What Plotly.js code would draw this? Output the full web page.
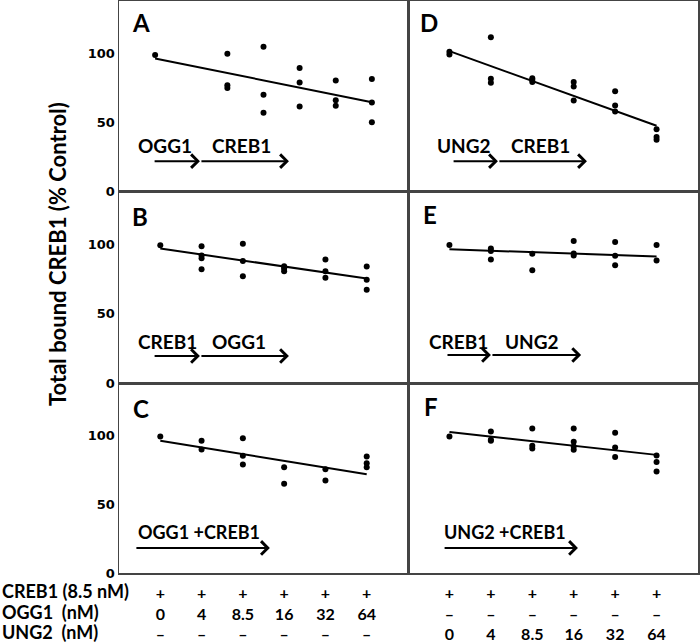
<!DOCTYPE html>
<html>
<head>
<meta charset="utf-8">
<script src="https://cdn.plot.ly/plotly-3.0.1.min.js"></script>
<style>
  html, body { margin: 0; padding: 0; background: #fff; }
  #plot { width: 700px; height: 644px; }
</style>
</head>
<body>
<div id="plot"></div>
<script>
// concentrations under each column of dots
var concLabels = ['0', '4', '8.5', '16', '32', '64'];
var plusRow = ['+', '+', '+', '+', '+', '+'];
var dashRow = ['\u2013', '\u2013', '\u2013', '\u2013', '\u2013', '\u2013'];
var rowLabels = ['CREB1 (8.5 nM)', 'OGG1\u00a0\u00a0(nM)', 'UNG2\u00a0\u00a0(nM)'];

// A : OGG1 -> CREB1 (drawn on a 7 slot axis, slot 1 empty)
var aX = [0, 2, 2, 2, 3, 3, 3, 4, 4, 4, 5, 5, 5, 6, 6, 6];
var aY = [99, 100, 77, 75, 105, 70, 57, 89.5, 79, 61.5, 80.5, 66, 62, 81.5, 64.5, 50];
var aFitX = [0, 6];
var aFitY = [96.5, 64.6];

// B : CREB1 -> OGG1
var bX = [0, 1, 1, 1, 1, 2, 2, 2, 3, 3, 3, 4, 4, 4, 5, 5, 5];
var bY = [99.3, 98.6, 92, 90, 82, 100.5, 88, 77, 84.3, 82.6, 80.7, 89, 80.7, 76, 84, 74.4, 67.2];
var bFitX = [0, 5];
var bFitY = [97, 75.4];

// C : OGG1 + CREB1
var cX = [0, 1, 1, 2, 2, 2, 3, 3, 4, 4, 5, 5, 5];
var cY = [99.5, 96.4, 90, 98.3, 85.4, 79.1, 77.1, 65, 75.7, 67.4, 85, 80, 77.1];
var cFitX = [0, 5];
var cFitY = [96.4, 72];

// D : UNG2 -> CREB1
var dX = [0, 0, 1, 1, 1, 2, 2, 2, 3, 3, 3, 4, 4, 4, 5, 5, 5];
var dY = [101.3, 99.4, 112, 81.7, 78.8, 82, 80.8, 79.3, 79.3, 76, 65.8, 72.6, 62.2, 57.8, 45, 39.3, 37.3];
var dFitX = [0, 5];
var dFitY = [101.8, 47.5];

// E : CREB1 -> UNG2
var eX = [0, 1, 1, 1, 2, 2, 3, 3, 3, 4, 4, 4, 5, 5];
var eY = [99.5, 97.1, 95.2, 89.1, 93.2, 81.4, 102.4, 93.5, 92, 101.7, 91.8, 85, 99.5, 88.4];
var eFitX = [0, 5];
var eFitY = [96.4, 91.3];

// F : UNG2 + CREB1
var fX = [0, 1, 1, 1, 2, 2, 2, 3, 3, 3, 3, 4, 4, 4, 5, 5, 5];
var fY = [99.5, 103.1, 97.1, 96.4, 105.3, 92.7, 90.7, 105.3, 95.6, 92.2, 89.8, 102.2, 91.5, 84.5, 85.6, 81, 73.9];
var fFitX = [0, 5];
var fFitY = [102.7, 86.1];

var FONT = 'Lato, "Open Sans", sans-serif';
var panels = [
  {x: aX, y: aY, fx: aFitX, fy: aFitY, ax: 'x',  ay: 'y'},
  {x: bX, y: bY, fx: bFitX, fy: bFitY, ax: 'x2', ay: 'y2'},
  {x: cX, y: cY, fx: cFitX, fy: cFitY, ax: 'x3', ay: 'y3'},
  {x: dX, y: dY, fx: dFitX, fy: dFitY, ax: 'x4', ay: 'y4'},
  {x: eX, y: eY, fx: eFitX, fy: eFitY, ax: 'x5', ay: 'y5'},
  {x: fX, y: fY, fx: fFitX, fy: fFitY, ax: 'x6', ay: 'y6'}
];

var data = [];
for (let i = 0; i < panels.length; i++) {
    var p = panels[i];
    data.push({
	type: 'scatter', mode: 'markers', x: p.x, y: p.y,
	xaxis: p.ax, yaxis: p.ay,
	marker: {color: '#000', size: 6}, hoverinfo: 'skip'
    });
    data.push({
	type: 'scatter', mode: 'lines', x: p.fx, y: p.fy,
	xaxis: p.ax, yaxis: p.ay,
	line: {color: '#000', width: 2}, hoverinfo: 'skip'
    });
}

var H = 644, W = 700;
var colL = [119 / W, 408 / W], colR = [408 / W, 698 / W];
var rowA = [1 - 191 / H, 1 - 0.75 / H], rowB = [1 - 383 / H, 1 - 191 / H], rowC = [1 - 573 / H, 1 - 383 / H];

var tickLeft = conc_ticks(plusRow, concLabels, dashRow);
var tickRight = conc_ticks(plusRow, dashRow, concLabels);
function conc_ticks(r1, r2, r3) {
    var out = [];
    for (let i = 0; i < r1.length; i++) out.push(r1[i] + '<br>' + r2[i] + '<br>' + r3[i]);
    return out;
}

function xax(anchor, dom, range, ticktext) {
    var a = {anchor: anchor, domain: dom, range: range, showgrid: false, zeroline: false,
	     showline: true, mirror: true, linecolor: '#444', linewidth: 1.5,
	     ticks: '', showticklabels: false, fixedrange: true};
    if (ticktext) {
	a.showticklabels = true;
	a.tickmode = 'array';
	a.tickvals = [0, 1, 2, 3, 4, 5];
	a.ticktext = ticktext;
	a.ticklabelstandoff = 5;
	a.tickfont = {family: FONT, size: 16, color: '#000', weight: 700};
    }
    return a;
}
function yax(anchor, dom, labels) {
    return {anchor: anchor, domain: dom, range: [0, 138.5], showgrid: false, zeroline: false,
	    showline: true, mirror: true, linecolor: '#444', linewidth: 1.5,
	    ticks: '', tickmode: 'array', tickvals: [0, 50, 100],
	    showticklabels: labels, ticklabelstandoff: 0,
	    tickfont: {family: '"DejaVu Sans", sans-serif', size: 13, color: '#000', weight: 700},
	    fixedrange: true};
}

var annotations = [];
function txt(xr, yr, x, y, text, size, anchor) {
    annotations.push({xref: xr + ' domain', yref: yr + ' domain', x: x, y: y, text: text,
		      showarrow: false, xanchor: anchor || 'left', yanchor: 'middle',
		      font: {family: FONT, size: size, color: '#000', weight: 700}});
}
function arrow(xr, yr, x0, x1, y) {
    annotations.push({xref: xr + ' domain', yref: yr + ' domain', axref: xr + ' domain', ayref: yr + ' domain',
		      x: x1, y: y, ax: x0, ay: y, text: '', showarrow: true,
		      arrowhead: 4, arrowsize: 1.3, arrowwidth: 2, arrowcolor: '#000', standoff: 0, startstandoff: 0});
}

// panel letters
txt('x',  'y',  0.038, 0.887, 'A', 24);
txt('x2', 'y2', 0.038, 0.867, 'B', 24);
txt('x3', 'y3', 0.040, 0.866, 'C', 24);
txt('x4', 'y4', 0.034, 0.887, 'D', 24);
txt('x5', 'y5', 0.045, 0.880, 'E', 24);
txt('x6', 'y6', 0.048, 0.876, 'F', 24);

// order-of-addition labels
txt('x', 'y', 0.059, 0.241, 'OGG1', 19);
txt('x', 'y', 0.315, 0.241, 'CREB1', 19);
arrow('x', 'y', 0.118, 0.280, 0.157);
arrow('x', 'y', 0.280, 0.588, 0.157);

txt('x2', 'y2', 0.059, 0.214, 'CREB1', 19);
txt('x2', 'y2', 0.315, 0.214, 'OGG1', 19);
arrow('x2', 'y2', 0.118, 0.280, 0.141);
arrow('x2', 'y2', 0.280, 0.588, 0.141);

txt('x3', 'y3', 0.059, 0.216, 'OGG1 +CREB1', 18);
arrow('x3', 'y3', 0.055, 0.522, 0.132);

txt('x4', 'y4', 0.093, 0.241, 'UNG2', 19);
txt('x4', 'y4', 0.348, 0.241, 'CREB1', 19);
arrow('x4', 'y4', 0.152, 0.310, 0.157);
arrow('x4', 'y4', 0.310, 0.617, 0.157);

txt('x5', 'y5', 0.066, 0.214, 'CREB1', 19);
txt('x5', 'y5', 0.328, 0.214, 'UNG2', 19);
arrow('x5', 'y5', 0.131, 0.286, 0.146);
arrow('x5', 'y5', 0.286, 0.597, 0.146);

txt('x6', 'y6', 0.117, 0.216, 'UNG2 +CREB1', 18);
arrow('x6', 'y6', 0.121, 0.586, 0.132);

// row labels of the table under the panels
var rowY = [591, 612, 632];
for (let i = 0; i < rowLabels.length; i++) {
    annotations.push({xref: 'paper', yref: 'paper', x: 0, y: 1 - rowY[i] / H, text: rowLabels[i],
		      showarrow: false, xanchor: 'left', yanchor: 'middle',
		      font: {family: FONT, size: 18, color: '#000', weight: 700}});
}

// y axis title
annotations.push({xref: 'paper', yref: 'paper', x: 57 / W, y: 1 - 254 / H, text: 'Total bound CREB1 (% Control)',
		  textangle: -90, showarrow: false, xanchor: 'center', yanchor: 'middle',
		  font: {family: FONT, size: 22, color: '#000', weight: 700}});

var layout = {
    width: W, height: H,
    margin: {l: 0, r: 0, t: 0, b: 0},
    paper_bgcolor: '#fff', plot_bgcolor: '#fff',
    showlegend: false,
    xaxis:  xax('y',  colL, [-1, 7]),            yaxis:  yax('x',  rowA, true),
    xaxis2: xax('y2', colL, [-1, 6]),            yaxis2: yax('x2', rowB, true),
    xaxis3: xax('y3', colL, [-1, 6], tickLeft),  yaxis3: yax('x3', rowC, true),
    xaxis4: xax('y4', colR, [-1, 6]),            yaxis4: yax('x4', rowA, false),
    xaxis5: xax('y5', colR, [-1, 6]),            yaxis5: yax('x5', rowB, false),
    xaxis6: xax('y6', colR, [-1, 6], tickRight), yaxis6: yax('x6', rowC, false),
    annotations: annotations
};

Plotly.newPlot('plot', data, layout, {displayModeBar: false, staticPlot: true});
</script>
</body>
</html>
